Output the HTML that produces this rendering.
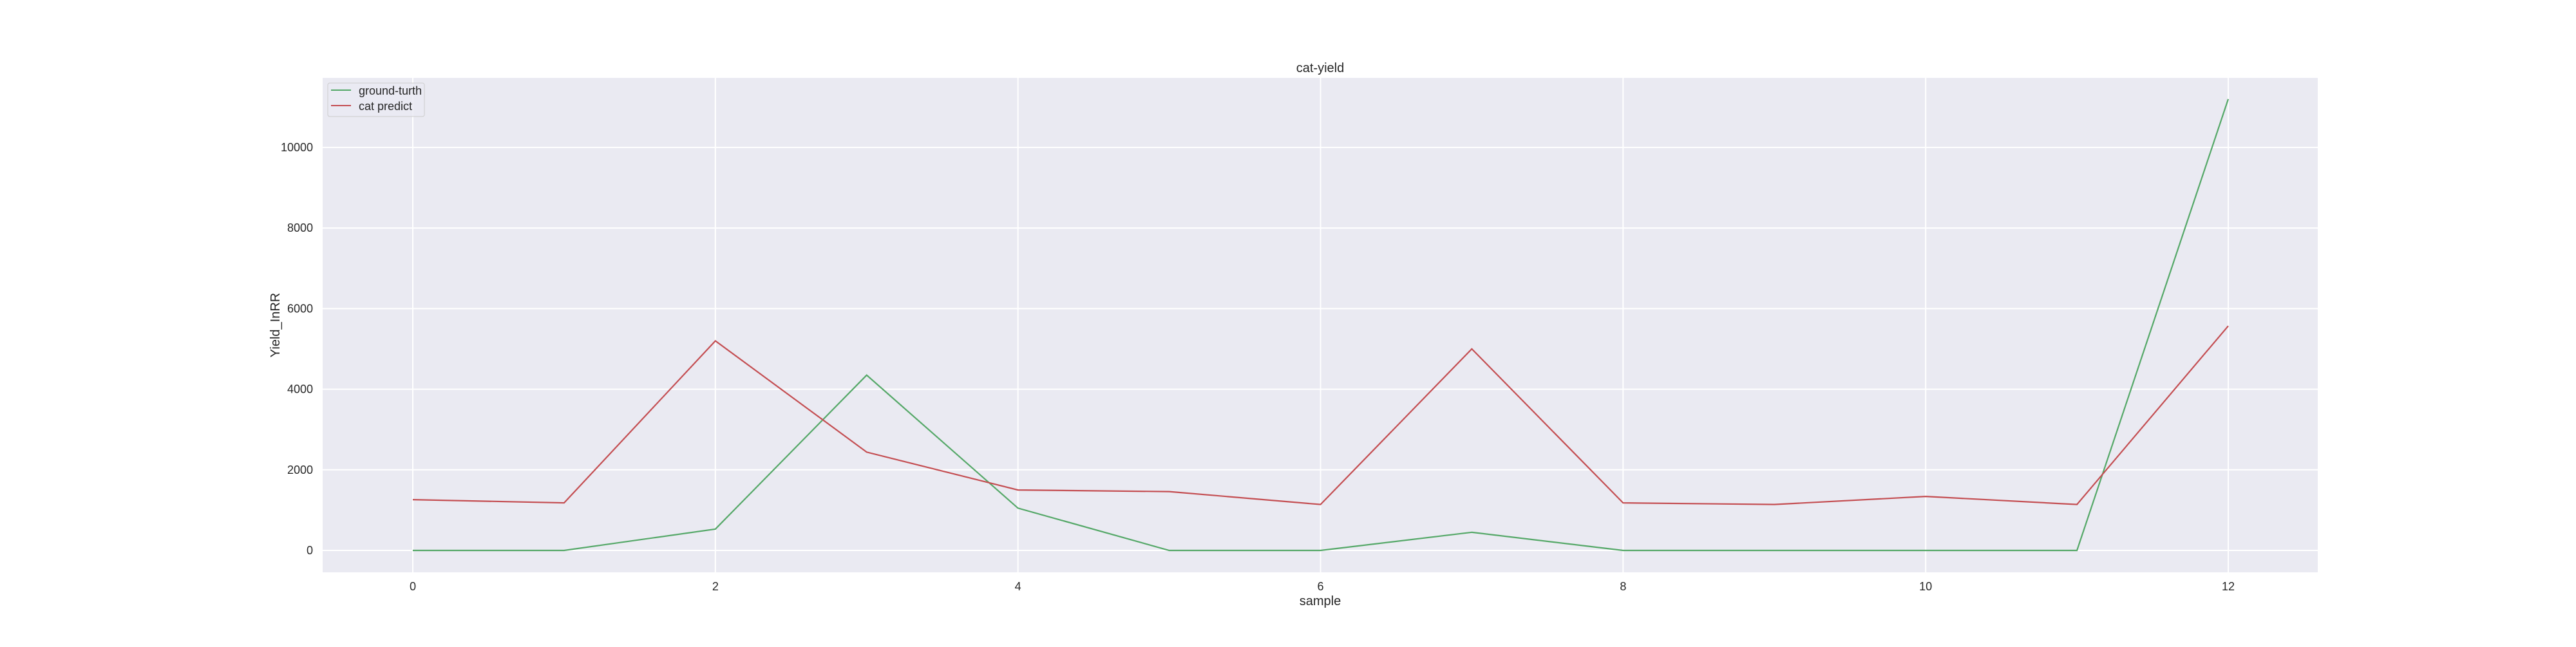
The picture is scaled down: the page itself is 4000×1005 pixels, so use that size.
<!DOCTYPE html>
<html><head><meta charset="utf-8"><style>
body{margin:0;background:#fff;}
svg text{font-family:"Liberation Sans",sans-serif;fill:#262626;}
</style></head><body>
<svg width="4000" height="1000" id="chart">
<rect x="501" y="121" width="3098" height="768" fill="#eaeaf2"/>
<g id="grid"></g><g id="ticks"></g><g id="lines"></g>
<text x="2050" y="112" text-anchor="middle" font-size="20">cat-yield</text>
<text x="2050" y="940" text-anchor="middle" font-size="20">sample</text>
<text transform="translate(434,505) rotate(-90)" text-anchor="middle" font-size="20">Yield_InRR</text>
<g>
<rect x="509" y="129" width="150" height="52" rx="3" fill="#eaeaf2" fill-opacity="0.8" stroke="#cccccc"/>
<line x1="514" y1="140" x2="545" y2="140" stroke="#55a868" stroke-width="2"/>
<text x="557" y="147" font-size="18">ground-turth</text>
<line x1="514" y1="164" x2="545" y2="164" stroke="#c44e52" stroke-width="2"/>
<text x="557" y="171" font-size="18">cat predict</text>
</g>
</svg>
<script>
const samples=[0,1,2,3,4,5,6,7,8,9,10,11,12];
const groundTruth=[0,0,530,4350,1050,0,0,450,0,0,0,0,11200];
const catPredict=[1260,1180,5200,2440,1500,1460,1140,5000,1180,1140,1340,1140,5570];
const xTicks=[0,2,4,6,8,10,12];
const yTicks=[0,2000,4000,6000,8000,10000];
const NS="http://www.w3.org/2000/svg";
function xs(v){return 641+(3460-641)*v/12;}
function ys(v){return 855-(855-229)*v/10000;}
function mk(tag,attrs,parent){const e=document.createElementNS(NS,tag);for(const k in attrs)e.setAttribute(k,attrs[k]);document.getElementById(parent).appendChild(e);return e;}
xTicks.forEach(t=>{
 const l=mk('line',{x1:xs(t),x2:xs(t),y1:121,y2:889,stroke:'#fff','stroke-width':2},'grid');
 
 
 const tx=mk('text',{x:xs(t),y:917,'text-anchor':'middle','font-size':18},'ticks');
 tx.textContent=t;
 
 
});
yTicks.forEach(t=>{
 const l=mk('line',{x1:501,x2:3599,y1:ys(t),y2:ys(t),stroke:'#fff','stroke-width':2},'grid');
 
 
 const tx=mk('text',{x:486,y:ys(t)+6,'text-anchor':'end','font-size':18},'ticks');
 tx.textContent=t;
 
 
});
function line(vals,color,name){
 const p=mk('polyline',{points:vals.map((v,i)=>xs(samples[i])+','+ys(v)).join(' '),fill:'none',stroke:color,'stroke-width':2.2},'lines');
 
 
}
line(groundTruth,'#55a868','ground-truth-line');
line(catPredict,'#c44e52','cat-predict-line');
</script>
</body></html>
